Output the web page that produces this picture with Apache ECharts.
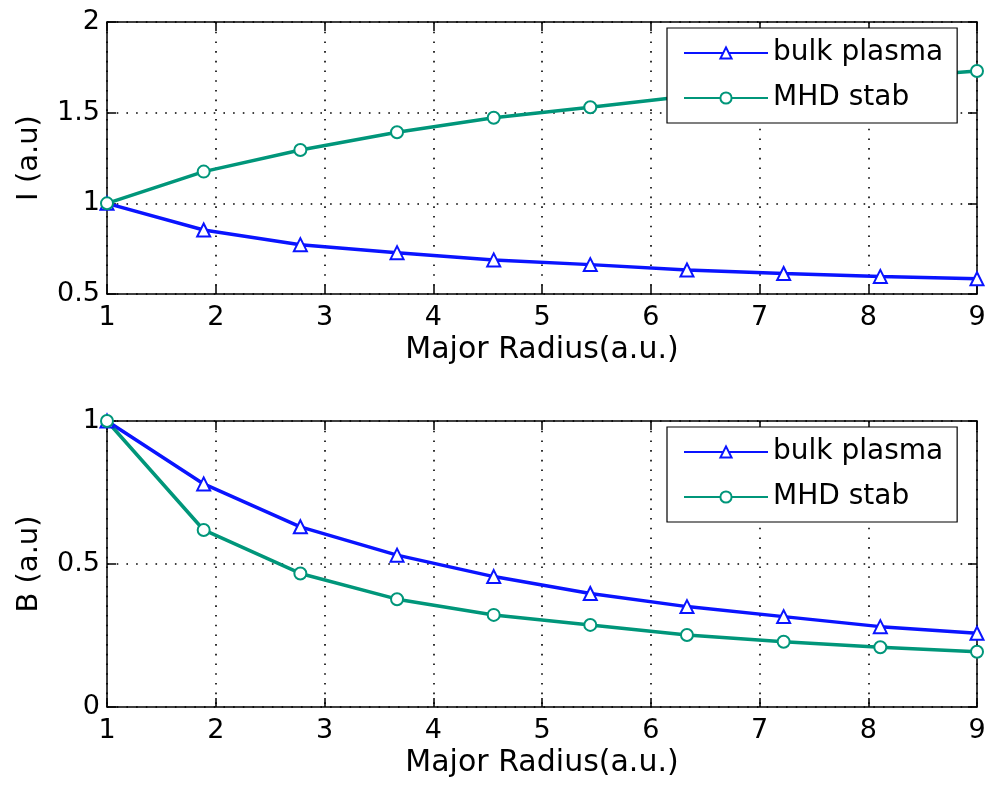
<!DOCTYPE html>
<html>
<head>
<meta charset="utf-8">
<script src="https://cdn.jsdelivr.net/npm/echarts@6/dist/echarts.min.js"></script>
<style>html,body{margin:0;padding:0;background:#fff}#c{width:990px;height:794px}</style>
</head>
<body>
<div id="c"></div>
<script>
// ---- data ----
const radius = [1, 1.889, 2.778, 3.667, 4.556, 5.444, 6.333, 7.222, 8.111, 9];
const currentBulk = [1, 0.853, 0.772, 0.728, 0.688, 0.662, 0.632, 0.613, 0.597, 0.584];
const currentMHD  = [1, 1.175, 1.294, 1.392, 1.472, 1.530, 1.590, 1.640, 1.690, 1.730];
const fieldBulk   = [1, 0.780, 0.630, 0.531, 0.456, 0.397, 0.351, 0.316, 0.281, 0.258];
const fieldMHD    = [1, 0.619, 0.467, 0.377, 0.322, 0.287, 0.252, 0.228, 0.209, 0.193];
const xTicks = [1, 2, 3, 4, 5, 6, 7, 8, 9];
const yTicksTop = [0.5, 1, 1.5, 2];
const yTicksBottom = [0, 0.5, 1];
const seriesNames = ['bulk plasma', 'MHD stab'];
const xName = 'Major Radius(a.u.)';
const yNameTop = 'I (a.u)';
const yNameBottom = 'B (a.u)';

const BLUE = '#0a14ff';
const GREEN = '#00967a';
const FONT = 'DejaVu Sans';
const dotted = {color: '#000', width: 1.6, type: [1.6, 8.1]};

function mainX(gi) {
  return {
    type: 'value', gridIndex: gi, min: xTicks[0], max: xTicks[xTicks.length - 1],
    interval: xTicks[1] - xTicks[0],
    name: xName, nameLocation: 'middle', nameGap: 41,
    nameTextStyle: {fontFamily: FONT, fontSize: 30, color: '#000'},
    axisLine: {show: true, onZero: false, lineStyle: {color: '#000', width: 1.5}},
    axisTick: {show: true, inside: true, length: 9, lineStyle: {color: '#000', width: 1.5}},
    axisLabel: {fontFamily: FONT, fontSize: 27, color: '#000', margin: 10},
    splitLine: {show: true, lineStyle: dotted}
  };
}
function topX(gi) {
  return {
    type: 'value', gridIndex: gi, position: 'top', min: xTicks[0], max: xTicks[xTicks.length - 1],
    interval: xTicks[1] - xTicks[0],
    axisLine: {show: true, onZero: false, lineStyle: {color: '#000', width: 1.5}},
    axisTick: {show: true, inside: true, length: 9, lineStyle: {color: '#000', width: 1.5}},
    axisLabel: {show: false}, splitLine: {show: false}
  };
}
function mainY(gi, ticks, name) {
  return {
    type: 'value', gridIndex: gi, min: ticks[0], max: ticks[ticks.length - 1],
    interval: ticks[1] - ticks[0],
    name: name, nameLocation: 'middle', nameGap: 63, nameRotate: 90,
    nameTextStyle: {fontFamily: FONT, fontSize: 29, color: '#000'},
    axisLine: {show: true, onZero: false, lineStyle: {color: '#000', width: 1.5}},
    axisTick: {show: true, inside: true, length: 9, lineStyle: {color: '#000', width: 1.5}},
    axisLabel: {fontFamily: FONT, fontSize: 27, color: '#000', margin: 7},
    splitLine: {show: true, lineStyle: dotted}
  };
}
function rightY(gi, ticks) {
  return {
    type: 'value', gridIndex: gi, position: 'right', min: ticks[0], max: ticks[ticks.length - 1],
    interval: ticks[1] - ticks[0],
    axisLine: {show: true, onZero: false, lineStyle: {color: '#000', width: 1.5}},
    axisTick: {show: true, inside: true, length: 9, lineStyle: {color: '#000', width: 1.5}},
    axisLabel: {show: false}, splitLine: {show: false}
  };
}
function pairs(ys) { return radius.map((x, i) => [x, ys[i]]); }
function series(name, ys, gi, color, sym, size) {
  return {
    type: 'line', name: name, xAxisIndex: gi * 2, yAxisIndex: gi * 2,
    data: pairs(ys), symbol: sym, symbolSize: size, showAllSymbol: true,
    lineStyle: {color: color, width: 3.5},
    itemStyle: {color: color, borderColor: color, borderWidth: 2.2},
    emphasis: {disabled: true}, z: 2
  };
}
function legend(top) {
  return {
    data: seriesNames, orient: 'vertical', left: 667, top: top,
    backgroundColor: '#fff', borderColor: '#000', borderWidth: 1.2,
    padding: [8, 14, 8, 16], itemGap: 11, itemWidth: 84, itemHeight: 14,
    textStyle: {fontFamily: FONT, fontSize: 28, color: '#000', lineHeight: 34},
    selectedMode: false, z: 10
  };
}

const chart = echarts.init(document.getElementById('c'), null, {renderer: 'canvas'});
chart.setOption({
  animation: false,
  backgroundColor: '#fff',
  grid: [
    {left: 107, top: 22, width: 870, height: 272},
    {left: 107, top: 421, width: 870, height: 286}
  ],
  xAxis: [mainX(0), topX(0), mainX(1), topX(1)],
  yAxis: [mainY(0, yTicksTop, yNameTop), rightY(0, yTicksTop), mainY(1, yTicksBottom, yNameBottom), rightY(1, yTicksBottom)],
  legend: [legend(28), legend(427)],
  series: [
    series(seriesNames[0], currentBulk, 0, BLUE, 'emptyTriangle', 13),
    series(seriesNames[1], currentMHD, 0, GREEN, 'emptyCircle', 12),
    series(seriesNames[0], fieldBulk, 1, BLUE, 'emptyTriangle', 13),
    series(seriesNames[1], fieldMHD, 1, GREEN, 'emptyCircle', 12)
  ]
});
</script>
</body>
</html>
